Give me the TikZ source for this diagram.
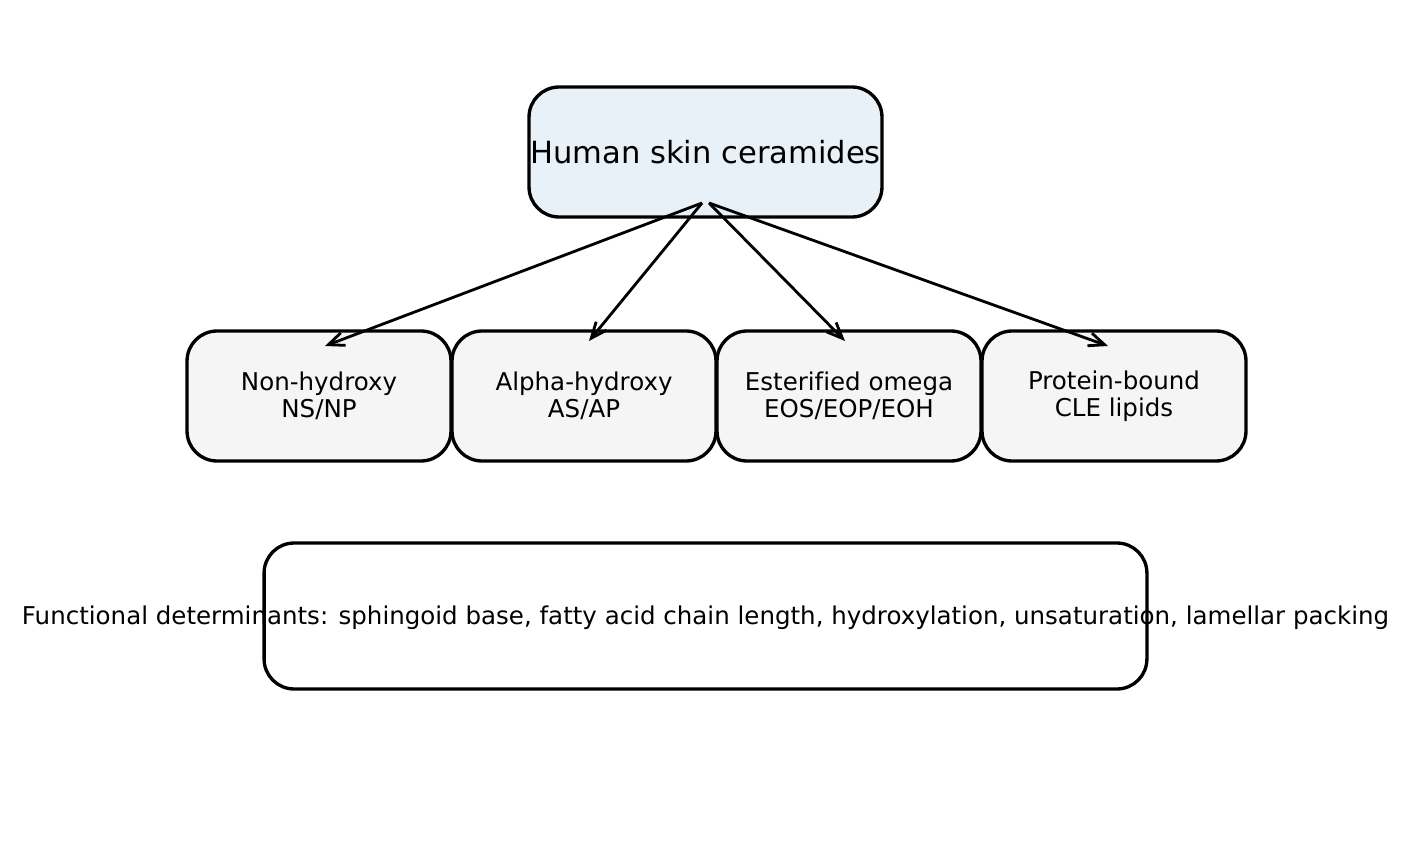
\documentclass[tikz,border=0pt]{standalone}
\usepackage{fontspec}
\setmainfont[Ligatures=NoCommon]{DejaVu Sans}
\usetikzlibrary{arrows.meta}
\definecolor{topfill}{HTML}{E8F1F8}
\definecolor{boxfill}{HTML}{F5F5F5}
\begin{document}
\begin{tikzpicture}[x=0.02cm, y=-0.02cm, line width=1.9pt,
    box/.style={draw, rounded corners=0.6cm, minimum width=5.28cm, minimum height=2.6cm, fill=boxfill,
        align=center, inner sep=0pt, font=\fontsize{13.95}{15.4}\selectfont},
    link/.style={-{Straight Barb[length=9pt, width=7.6pt, line width=1.6pt]}, line width=1.6pt}]
    \useasboundingbox (0, 0) rectangle (1410, 858);

    \node[box, fill=topfill, minimum width=7.06cm, font=\fontsize{17.4}{20}\selectfont] (top) at (705.5, 152) {Human skin ceramides};

    \node[box] (nonhyd) at (319, 396) {Non-hydroxy\\NS/NP};
    \node[box] (alphahyd) at (584, 396) {Alpha-hydroxy\\AS/AP};
    \node[box] (esterified) at (849, 396) {Esterified omega\\EOS/EOP/EOH};
    \node[box] (protein) at (1114, 396) {Protein-bound\\CLE lipids};

    \node[box, fill=white, minimum width=17.66cm, minimum height=2.92cm] (determ) at (705.5, 616) {};
    \node[font=\fontsize{13.95}{15.4}\selectfont, inner sep=0pt] (determtext) at ([yshift=-0.03cm]determ.center) {Functional determinants: sphingoid base, fatty acid chain length, hydroxylation, unsaturation, lamellar packing};

    \coordinate (outL) at (702, 203);
    \coordinate (outR) at (709, 203);
    \coordinate (inA) at (325, 346);
    \coordinate (inB) at (589, 341);
    \coordinate (inC) at (845, 341);
    \coordinate (inD) at (1108, 346);

    \draw[link] (outL) -- (inA);
    \draw[link] (outL) -- (inB);
    \draw[link] (outR) -- (inC);
    \draw[link] (outR) -- (inD);
\end{tikzpicture}
\end{document}
